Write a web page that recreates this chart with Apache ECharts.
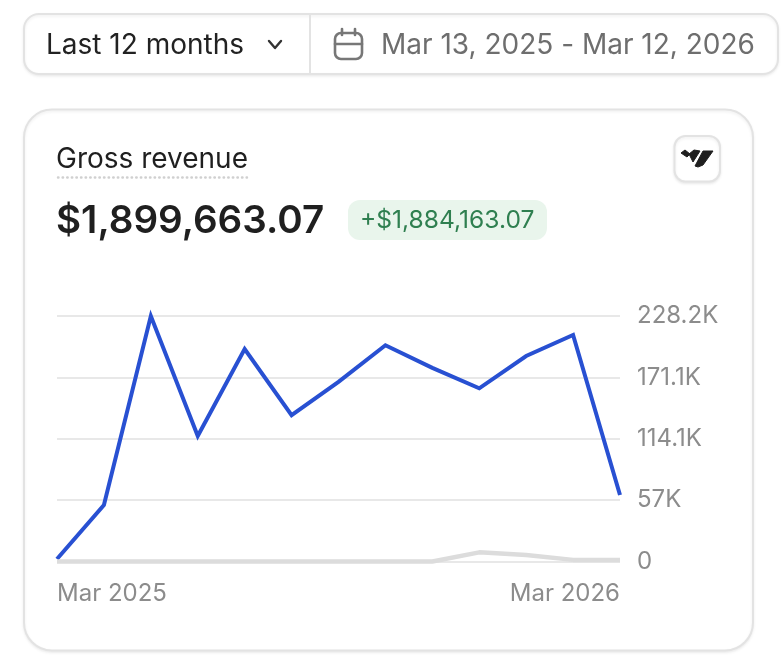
<!DOCTYPE html>
<html lang="en">

<head>
  <script src="https://cdn.jsdelivr.net/npm/echarts@6.0.0/dist/echarts.min.js"></script>
  <meta charset="UTF-8">
  <style>
    html, body { margin: 0; padding: 0; background: #fff; }
  </style>
</head>

<body>
  <div id="revenueChart" style="width: 784px;height:664px;"></div>

  <script type="text/javascript">

    var months = ['Mar 2025', 'Apr 2025', 'May 2025', 'Jun 2025', 'Jul 2025', 'Aug 2025', 'Sep 2025',
      'Oct 2025', 'Nov 2025', 'Dec 2025', 'Jan 2026', 'Feb 2026', 'Mar 2026'];
    var currentValues = [2300, 52500, 228200, 116700, 197500, 136000, 166900, 201000, 180000, 161000, 191000, 210500, 61800];
    var previousValues = [0, 0, 0, 0, 0, 0, 0, 0, 0, 8500, 6000, 1500, 1500];
    var tickLabels = ['0', '57K', '114.1K', '171.1K', '228.2K'];
    var tickStep = 57050;

    const fontName = 'Inter, "Noto Sans", sans-serif';

    function label(text, x, y, size, color, weight) {
      return {
        type: 'text',
        x: x,
        y: y,
        style: {
          text: text,
          font: (weight || 400) + ' ' + size + 'px ' + fontName,
          fill: color,
          textVerticalAlign: 'middle'
        }
      };
    }

    function box(x, y, width, height, r, fill, stroke, shadow) {
      return {
        type: 'rect',
        shape: { x: x, y: y, width: width, height: height, r: r },
        style: Object.assign({ fill: fill, stroke: stroke || null, lineWidth: 2 }, shadow ? {
          shadowColor: 'rgba(0,0,0,0.07)', shadowBlur: 3, shadowOffsetY: 1.5
        } : {})
      };
    }

    function stroke(points, color, width) {
      return {
        type: 'polyline',
        shape: { points: points },
        style: { fill: null, stroke: color, lineWidth: width, lineCap: 'round', lineJoin: 'round' }
      };
    }

    function logoPiece(points) {
      return {
        type: 'polygon',
        shape: { points: points },
        style: { fill: '#1f1f1f', stroke: '#1f1f1f', lineWidth: 1, lineJoin: 'round' }
      };
    }

    const uiParts = [
      // date range control
      box(24, 14, 754, 60, 15, '#fff', '#e3e3e3', true),
      { type: 'line', shape: { x1: 310, y1: 14, x2: 310, y2: 74 }, style: { stroke: '#e3e3e3', lineWidth: 2 } },
      label('Last 12 months', 46, 45.5, 28, '#222'),
      stroke([[269, 41], [275, 48], [281, 41]], '#333', 2.4),
      { type: 'rect', shape: { x: 335, y: 33, width: 27, height: 26, r: 6 }, style: { fill: null, stroke: '#777', lineWidth: 2.6 } },
      stroke([[335, 44], [362, 44]], '#777', 2.6),
      stroke([[342, 29], [342, 35]], '#777', 2.6),
      stroke([[355, 29], [355, 35]], '#777', 2.6),
      label('Mar 13, 2025 - Mar 12, 2026', 381, 45.5, 28, '#6e6e6e'),

      // card
      box(24, 109.5, 729, 541, 28, '#fff', '#e3e3e3', true),
      label('Gross revenue', 56, 159.5, 28, '#1f1f1f'),
      {
        type: 'line',
        shape: { x1: 58, y1: 177.5, x2: 247, y2: 177.5 },
        style: { stroke: '#d0d0d0', lineWidth: 2.4, lineDash: [0.5, 4.1], lineCap: 'round' }
      },
      label('$1,899,663.07', 56, 221, 38.6, '#1f1f1f', 600),
      box(348, 200, 199, 40, 12, '#e9f5ec'),
      label('+$1,884,163.07', 360, 220.5, 24.6, '#2f7f50'),

      // logo button
      box(674.5, 136, 45.5, 45.5, 11, '#fff', '#e3e3e3', true),
      logoPiece([[681, 153], [685, 150], [690, 154], [687, 157]]),
      logoPiece([[689, 154], [694, 150], [700, 151], [693, 162]]),
      logoPiece([[695, 166], [703, 151], [713, 151], [703, 165], [698, 167]])
    ];

    function createRevenueChart() {
      const chart = echarts.init(document.getElementById('revenueChart'));
      const option = {
        animation: false,
        textStyle: { fontFamily: fontName },
        grid: { left: 57, right: 164, top: 316, height: 245.5 },
        graphic: { elements: uiParts },
        xAxis: {
          type: 'category',
          data: months,
          boundaryGap: false,
          axisLine: { show: false },
          axisTick: { show: false },
          splitLine: { show: false },
          axisLabel: {
            color: '#8c8c8c',
            fontSize: 24,
            margin: 20,
            alignMinLabel: 'left',
            alignMaxLabel: 'right',
            interval: function (index) {
              return index === 0 || index === months.length - 1;
            }
          }
        },
        yAxis: {
          type: 'value',
          position: 'right',
          min: 0,
          max: tickStep * (tickLabels.length - 1),
          interval: tickStep,
          axisLine: { show: false },
          axisTick: { show: false },
          splitLine: { lineStyle: { color: '#e8e8e8', width: 2 } },
          axisLabel: {
            color: '#8c8c8c',
            fontSize: 24,
            margin: 17,
            formatter: function (value) {
              return tickLabels[Math.round(value / tickStep)];
            }
          }
        },
        series: [
          {
            name: 'Gross revenue',
            type: 'line',
            data: currentValues,
            showSymbol: false,
            clip: false,
            lineStyle: { color: '#2850d2', width: 4, join: 'miter' }
          },
          {
            name: 'Previous period',
            type: 'line',
            data: previousValues,
            showSymbol: false,
            clip: false,
            lineStyle: { color: '#dcdcdc', width: 4.5 }
          }
        ]
      };
      chart.setOption(option);
    }
    createRevenueChart();
  </script>
</body>

</html>
